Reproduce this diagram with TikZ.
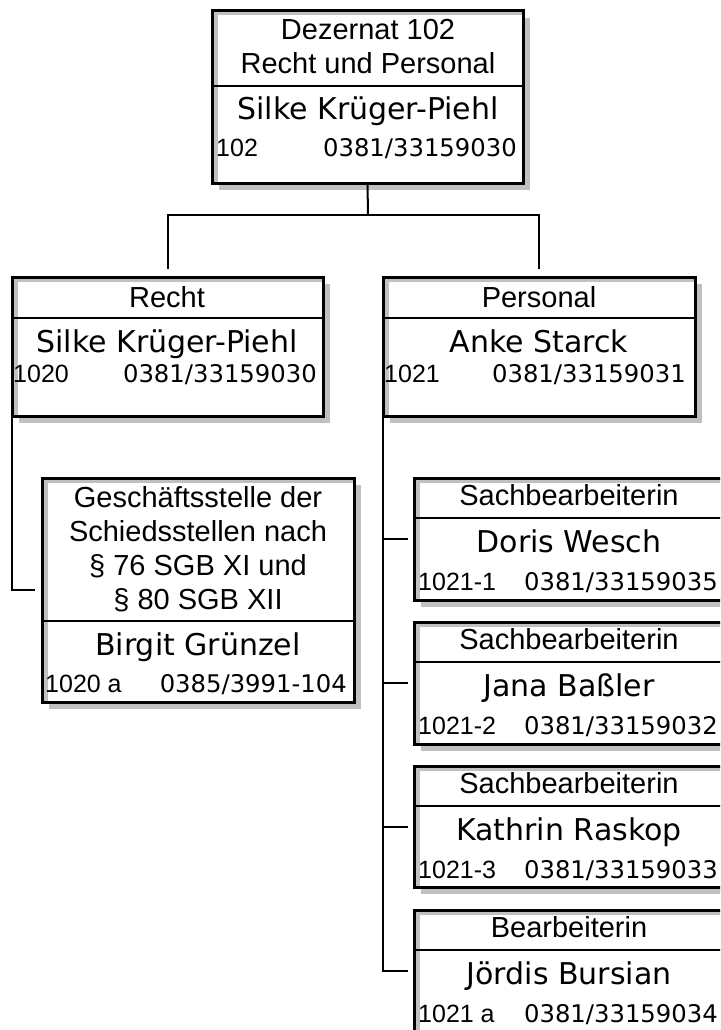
\documentclass[tikz,border=0pt]{standalone}
\usepackage{fontspec}
\setmainfont{Liberation Sans}
\newfontfamily\verdana{DejaVu Sans}
\usetikzlibrary{shadows}
\definecolor{shadowgray}{RGB}{192,192,192}
\tikzset{
  unit/.style={draw, line width=3pt, fill=white, anchor=north west, inner sep=0pt, outer sep=0pt,
    drop shadow={shadow xshift=7pt, shadow yshift=-7pt, fill=shadowgray, opacity=1},
    path picture={
      \fill[shadowgray] (path picture bounding box.north west) rectangle ([xshift=5.5pt]path picture bounding box.south west);
      \fill[shadowgray] (path picture bounding box.north west) rectangle ([yshift=-4.5pt]path picture bounding box.north east);}},
  rule/.style={line width=2pt},
  link/.style={line width=2pt},
  head/.style={anchor=base, inner sep=0pt, align=center, font=\fontsize{29}{34}\selectfont},
  who/.style={anchor=base, inner sep=0pt, font=\verdana\fontsize{30}{34}\selectfont},
  ext/.style={anchor=base west, inner sep=0pt, font=\fontsize{25}{30}\selectfont},
  phone/.style={anchor=base east, inner sep=0pt, font=\verdana\fontsize{24.3}{28}\selectfont}
}
\begin{document}
\begin{tikzpicture}[x=1pt, y=-1pt]
\clip (0,0) rectangle (720,1030);
\fill[white] (0,0) rectangle (720,1030);
\node[unit, minimum width=311pt, minimum height=172pt] (dez) at (212,11) {};
\draw[rule] (dez.west |- 0,86) -- (dez.east |- 0,86);
\node[head] (dezhead) at (368,74) {Dezernat 102\\Recht und Personal};
\node[who] (dezwho) at (368,120) {Silke Krüger-Piehl};
\node[ext] (dezext) at (216,157) {102};
\node[phone] (dezphone) at (517,157) {0381/33159030};
\node[unit, minimum width=311pt, minimum height=139pt] (recht) at (12,277) {};
\draw[rule] (recht.west |- 0,318) -- (recht.east |- 0,318);
\node[head] (rechthead) at (167,307) {Recht};
\node[who] (rechtwho) at (167,352) {Silke Krüger-Piehl};
\node[ext] (rechtext) at (13,382) {1020};
\node[phone] (rechtphone) at (317,382) {0381/33159030};
\node[unit, minimum width=312pt, minimum height=139pt] (personal) at (383,277) {};
\draw[rule] (personal.west |- 0,318) -- (personal.east |- 0,318);
\node[head] (personalhead) at (539,307) {Personal};
\node[who] (personalwho) at (539,352) {Anke Starck};
\node[ext] (personalext) at (384,382) {1021};
\node[phone] (personalphone) at (686,382) {0381/33159031};
\node[unit, minimum width=312pt, minimum height=224pt] (gst) at (42,478) {};
\draw[rule] (gst.west |- 0,621) -- (gst.east |- 0,621);
\node[head] (gsthead) at (198,609) {Geschäftsstelle der\\Schiedsstellen nach\\§ 76 SGB XI und\\§ 80 SGB XII};
\node[who] (gstwho) at (198,655) {Birgit Grünzel};
\node[ext] (gstext) at (45,692) {1020 a};
\node[phone] (gstphone) at (347,692) {0385/3991-104};
\node[unit, minimum width=310pt, minimum height=122pt] (doris) at (414,478) {};
\draw[rule] (doris.west |- 0,518) -- (doris.east |- 0,518);
\node[head] (dorishead) at (569,505) {Sachbearbeiterin};
\node[who] (doriswho) at (569,552) {Doris Wesch};
\node[ext] (dorisext) at (418,590) {1021-1};
\node[phone] (dorisphone) at (718,590) {0381/33159035};
\node[unit, minimum width=310pt, minimum height=122pt] (jana) at (414,622) {};
\draw[rule] (jana.west |- 0,662) -- (jana.east |- 0,662);
\node[head] (janahead) at (569,649) {Sachbearbeiterin};
\node[who] (janawho) at (569,696) {Jana Baßler};
\node[ext] (janaext) at (418,734) {1021-2};
\node[phone] (janaphone) at (718,734) {0381/33159032};
\node[unit, minimum width=310pt, minimum height=121pt] (kathrin) at (414,766) {};
\draw[rule] (kathrin.west |- 0,806) -- (kathrin.east |- 0,806);
\node[head] (kathrinhead) at (569,793) {Sachbearbeiterin};
\node[who] (kathrinwho) at (569,840) {Kathrin Raskop};
\node[ext] (kathrinext) at (418,878) {1021-3};
\node[phone] (kathrinphone) at (718,878) {0381/33159033};
\node[unit, minimum width=310pt, minimum height=122pt] (joerdis) at (414,910) {};
\draw[rule] (joerdis.west |- 0,950) -- (joerdis.east |- 0,950);
\node[head] (joerdishead) at (569,937) {Bearbeiterin};
\node[who] (joerdiswho) at (569,984) {Jördis Bursian};
\node[ext] (joerdisext) at (418,1022) {1021 a};
\node[phone] (joerdisphone) at (718,1022) {0381/33159034};
% connectors between the units
\coordinate (fork) at (368,215);
\draw[link] (dez.south) -- (fork);
\draw[link, shorten >=8pt] (fork) -| (recht.north);
\draw[link, shorten >=8pt] (fork) -| (personal.north);
\draw[link, shorten >=7pt] (recht.south west) |- (gst.west);
\draw[link, shorten >=6pt] (personal.south west) |- (doris.west);
\draw[link, shorten >=6pt] (personal.south west) |- (jana.west);
\draw[link, shorten >=6pt] (personal.south west) |- (kathrin.west);
\draw[link, shorten >=6pt] (personal.south west) |- (joerdis.west);
\end{tikzpicture}
\end{document}
